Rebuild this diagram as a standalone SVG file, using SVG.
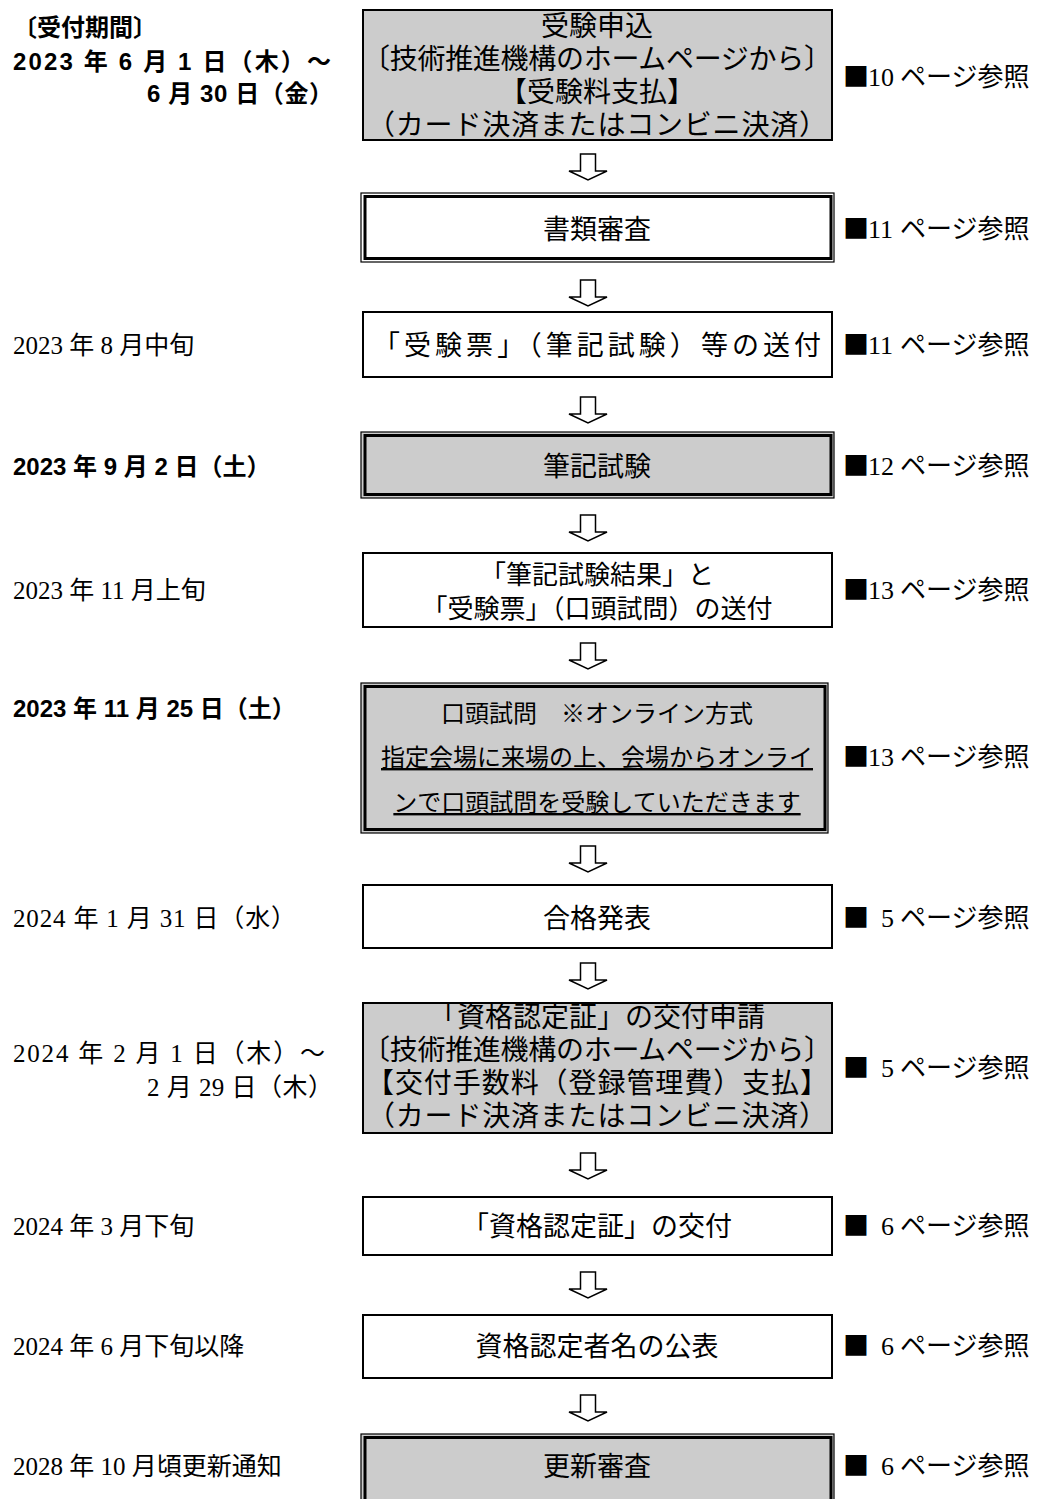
<svg xmlns="http://www.w3.org/2000/svg" width="1040" height="1499" viewBox="0 0 1040 1499">
<style>
.box{fill:#fff;stroke:#000;stroke-width:2}
.gray{fill:#cccccc}
.out{stroke:#000;stroke-width:1.2}
.in{fill:none;stroke:#000;stroke-width:3}
.t{font-family:"Liberation Serif","Noto Sans CJK JP",sans-serif;font-size:27px;text-anchor:middle;fill:#000}
.t24{font-size:24px}
.t26{font-size:26px}
.t28{font-size:28px}
.u{text-decoration:underline}
.d{font-family:"Liberation Serif","Noto Sans CJK JP",serif;font-size:25px;fill:#000}
.db{font-family:"Liberation Sans","Noto Sans CJK JP",sans-serif;font-size:24px;font-weight:bold;fill:#000}
.r{font-family:"Liberation Serif","Noto Sans CJK JP",serif;font-size:26px;fill:#000}
.sq{font-family:"Noto Sans CJK JP",sans-serif}
.arrow{fill:#fff;stroke:#000;stroke-width:1.5;stroke-linejoin:miter}
</style>
<defs>
<polygon id="arr" points="-7.5,0 7.5,0 7.5,17 19,17 0,26 -19,17 -7.5,17"/>
</defs>

<g id="labels-left">
<text class="db" x="13" y="36">〔受付期間〕</text>
<text class="db" x="13" y="70" textLength="318" lengthAdjust="spacing">2023 年 6 月 1 日（木）～</text>
<text class="db" x="147" y="102" textLength="186" lengthAdjust="spacing">6 月 30 日（金）</text>
<text class="d" x="13" y="354">2023 年 8 月中旬</text>
<text class="db" x="13" y="475">2023 年 9 月 2 日（土）</text>
<text class="d" x="13" y="599">2023 年 11 月上旬</text>
<text class="db" x="13" y="717">2023 年 11 月 25 日（土）</text>
<text class="d" x="13" y="927" textLength="283" lengthAdjust="spacing">2024 年 1 月 31 日（水）</text>
<text class="d" x="13" y="1062" textLength="312" lengthAdjust="spacing">2024 年 2 月 1 日（木）～</text>
<text class="d" x="147" y="1096" textLength="186" lengthAdjust="spacing">2 月 29 日（木）</text>
<text class="d" x="13" y="1235">2024 年 3 月下旬</text>
<text class="d" x="13" y="1355">2024 年 6 月下旬以降</text>
<text class="d" x="13" y="1475">2028 年 10 月頃更新通知</text>
</g>

<g id="node-apply">
<rect class="box gray" x="363" y="10" width="469" height="130"/>
<text class="t t28" x="597" y="36">受験申込</text>
<text class="t t28" x="597" y="69" textLength="470" lengthAdjust="spacing">〔技術推進機構のホームページから〕</text>
<text class="t t28" x="597" y="102">【受験料支払】</text>
<text class="t t28" x="597" y="135" textLength="460" lengthAdjust="spacing">（カード決済またはコンビニ決済）</text>
</g>

<g id="node-docs">
<rect class="out" x="361" y="193" width="473" height="69" fill="#fff"/>
<rect class="in" x="365" y="196.5" width="466" height="62"/>
<text class="t" x="597" y="239">書類審査</text>
</g>

<g id="node-ticket1">
<rect class="box" x="363" y="312" width="469" height="65"/>
<text class="t" x="597" y="355" textLength="448" lengthAdjust="spacing">「受験票」（筆記試験）等の送付</text>
</g>

<g id="node-written">
<rect class="out" x="361" y="432" width="473" height="66" fill="#cccccc"/>
<rect class="in" x="365" y="435.5" width="466" height="59"/>
<text class="t" x="597" y="476">筆記試験</text>
</g>

<g id="node-result">
<rect class="box" x="363" y="553" width="469" height="74"/>
<text class="t t26" x="597" y="584">「筆記試験結果」と</text>
<text class="t t26" x="597" y="618">「受験票」（口頭試問）の送付</text>
</g>

<g id="node-oral">
<rect class="out" x="361" y="683" width="467" height="150" fill="#cccccc"/>
<rect class="in" x="365" y="686.5" width="460" height="143"/>
<text class="t t24" x="597" y="722">口頭試問　※オンライン方式</text>
<text class="t t24 u" x="597" y="766">指定会場に来場の上、会場からオンライ</text>
<text class="t t24 u" x="597" y="811">ンで口頭試問を受験していただきます</text>
</g>

<g id="node-pass">
<rect class="box" x="363" y="885" width="469" height="63"/>
<text class="t" x="597" y="928">合格発表</text>
</g>

<g id="node-cert-apply">
<rect class="box gray" x="363" y="1003" width="469" height="130"/>
<text class="t t28" x="597" y="1027">「資格認定証」の交付申請</text>
<text class="t t28" x="597" y="1060" textLength="470" lengthAdjust="spacing">〔技術推進機構のホームページから〕</text>
<text class="t t28" x="597" y="1093" textLength="462" lengthAdjust="spacing">【交付手数料（登録管理費）支払】</text>
<text class="t t28" x="597" y="1126" textLength="460" lengthAdjust="spacing">（カード決済またはコンビニ決済）</text>
</g>

<g id="node-cert">
<rect class="box" x="363" y="1197" width="469" height="58"/>
<text class="t" x="597" y="1236">「資格認定証」の交付</text>
</g>

<g id="node-publish">
<rect class="box" x="363" y="1315" width="469" height="63"/>
<text class="t" x="597" y="1356">資格認定者名の公表</text>
</g>

<g id="node-renew">
<rect class="out" x="361" y="1434" width="473" height="72" fill="#cccccc"/>
<rect class="in" x="365" y="1437.5" width="466" height="66"/>
<text class="t" x="597" y="1476">更新審査</text>
</g>

<g id="refs">
<text class="r" y="86"><tspan class="sq" x="843">■</tspan><tspan x="868">10</tspan><tspan x="900">ページ参照</tspan></text>
<text class="r" y="238"><tspan class="sq" x="843">■</tspan><tspan x="868">11</tspan><tspan x="900">ページ参照</tspan></text>
<text class="r" y="354"><tspan class="sq" x="843">■</tspan><tspan x="868">11</tspan><tspan x="900">ページ参照</tspan></text>
<text class="r" y="475"><tspan class="sq" x="843">■</tspan><tspan x="868">12</tspan><tspan x="900">ページ参照</tspan></text>
<text class="r" y="599"><tspan class="sq" x="843">■</tspan><tspan x="868">13</tspan><tspan x="900">ページ参照</tspan></text>
<text class="r" y="766"><tspan class="sq" x="843">■</tspan><tspan x="868">13</tspan><tspan x="900">ページ参照</tspan></text>
<text class="r" y="927"><tspan class="sq" x="843">■</tspan><tspan x="881">5</tspan><tspan x="900">ページ参照</tspan></text>
<text class="r" y="1077"><tspan class="sq" x="843">■</tspan><tspan x="881">5</tspan><tspan x="900">ページ参照</tspan></text>
<text class="r" y="1235"><tspan class="sq" x="843">■</tspan><tspan x="881">6</tspan><tspan x="900">ページ参照</tspan></text>
<text class="r" y="1355"><tspan class="sq" x="843">■</tspan><tspan x="881">6</tspan><tspan x="900">ページ参照</tspan></text>
<text class="r" y="1475"><tspan class="sq" x="843">■</tspan><tspan x="881">6</tspan><tspan x="900">ページ参照</tspan></text>
</g>

<g id="connectors">
<use href="#arr" class="arrow" x="588" y="154"/>
<use href="#arr" class="arrow" x="588" y="280"/>
<use href="#arr" class="arrow" x="588" y="397"/>
<use href="#arr" class="arrow" x="588" y="515"/>
<use href="#arr" class="arrow" x="588" y="643"/>
<use href="#arr" class="arrow" x="588" y="846"/>
<use href="#arr" class="arrow" x="588" y="963"/>
<use href="#arr" class="arrow" x="588" y="1153"/>
<use href="#arr" class="arrow" x="588" y="1272"/>
<use href="#arr" class="arrow" x="588" y="1395"/>
</g>
</svg>
